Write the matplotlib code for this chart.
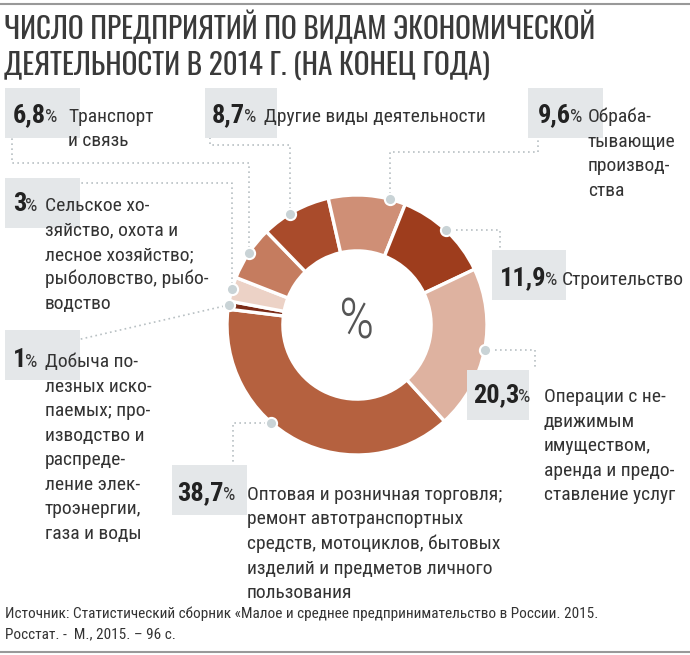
import numpy as np
import matplotlib
matplotlib.use("Agg")
import matplotlib.pyplot as plt
from matplotlib import font_manager

# data, clockwise starting from the lower-right edge of the big wedge
shares = [38.7, 1, 3, 6.8, 8.7, 9.6, 11.9, 20.3]
numbers = ["38,7", "1", "3", "6,8", "8,7", "9,6", "11,9", "20,3"]
names = [
    ["Оптовая и розничная торговля;", "ремонт автотранспортных",
     "средств, мотоциклов, бытовых", "изделий и предметов личного", "пользования"],
    ["Добыча по-", "лезных иско-", "паемых; про-", "изводство и", "распреде-",
     "ление элек-", "троэнергии,", "газа и воды"],
    ["Сельское хо-", "зяйство, охота и", "лесное хозяйство;",
     "рыболовство, рыбо-", "водство"],
    ["Транспорт", "и связь"],
    ["Другие виды деятельности"],
    ["Обраба-", "тывающие", "производ-", "ства"],
    ["Строительство"],
    ["Операции с не-", "движимым", "имуществом,", "аренда и предо-",
     "ставление услуг"],
]
colors = ["#b5613f", "#7b2b17", "#ecd2c6", "#c57c5f",
          "#a94b2b", "#cf8f76", "#9e3d1d", "#deb2a0"]

title = ["ЧИСЛО ПРЕДПРИЯТИЙ ПО ВИДАМ ЭКОНОМИЧЕСКОЙ",
         "ДЕЯТЕЛЬНОСТИ В 2014 Г. (НА КОНЕЦ ГОДА)"]
source = ["Источник: Статистический сборник «Малое и среднее предпринимательство в России. 2015.",
          "Росстат. -  М., 2015. – 96 с."]

available = {f.name for f in font_manager.fontManager.ttflist}


def pick(cands):
    for c in cands:
        if c in available:
            return c
    return "DejaVu Sans"


BODY = pick(["Roboto Condensed", "PT Sans Narrow", "Liberation Sans Narrow", "Roboto"])
HEAD = pick(["Oswald", "PT Sans Narrow", "Roboto Condensed", "Roboto"])
plt.rcParams["font.family"] = [BODY, "DejaVu Sans"]

W, H = 690, 655
cx, cy, R = 357, 325, 130

# label layout in pixels: box (x, y, w, h), number x, baseline y, dot position in wedge
boxes = [(172, 465, 75, 50), (5, 330, 75, 50), (5, 178, 75, 50), (5, 88, 75, 50),
         (205, 88, 72, 50), (528, 88, 75, 50), (492, 250, 74, 50), (467, 370, 62, 50)]
num_x = [177, 13, 13, 13, 212, 538, 500, 473]
desc_x = [247, 45, 45, 68, 264, 588, 562, 544]
base_y = [500, 367, 211, 122, 122, 122, 285, 402]
dot_frac = [0.6, 0.5, 0.5, 0.5, 0.42, 0.8, 0.5, 0.5]
line_step = 24.5

fig = plt.figure(figsize=(W / 100, H / 100), dpi=100)
ax = fig.add_axes([0, 0, 1, 1])

# y points down here, so counterclock=True turns clockwise on screen
start = 137.7
ax.pie(shares, colors=colors, center=(cx, cy), radius=R, startangle=start - 90,
       counterclock=True, frame=True,
       wedgeprops=dict(width=R * 0.43, edgecolor="white", linewidth=2.4))
ax.set_xlim(0, W)
ax.set_ylim(H, 0)
ax.set_aspect("equal")
ax.axis("off")

edges = start + np.concatenate([[0], np.cumsum(shares)]) * 3.6
dots = []
for i in range(len(shares)):
    th = np.radians(edges[i] + (edges[i + 1] - edges[i]) * dot_frac[i] - 90)
    dots.append((cx + R * np.cos(th), cy + R * np.sin(th)))

# leader routes: from dot to box
routes = [
    lambda d: [d, (233, d[1]), (233, 465)],
    lambda d: [d, (68, 342)],
    lambda d: [d, (d[0], 183), (68, 183)],
    lambda d: [d, (d[0], 163), (12, 163), (12, 137)],
    lambda d: [d, (d[0], 145), (210, 145), (210, 137)],
    lambda d: [d, (d[0], 152), (538, 152), (538, 137)],
    lambda d: [d, (500, d[1]), (500, 250)],
    lambda d: [d, (535, d[1]), (535, 370)],
]
for d, route in zip(dots, routes):
    pts = np.array(route(d))
    ax.plot(pts[:, 0], pts[:, 1], color="#b8c0c3", lw=1.2,
            linestyle=(0, (1, 2)), zorder=1)
for d in dots:
    ax.scatter(d[0], d[1], s=65, color="#c9d3d6", edgecolor="white",
               linewidth=1.5, zorder=5)

fig.canvas.draw()
rend = fig.canvas.get_renderer()
for i in range(len(shares)):
    bx, by, bw, bh = boxes[i]
    ax.add_patch(plt.Rectangle((bx, by), bw, bh, facecolor="#e4e7e9",
                               edgecolor="none", zorder=2))
    t = ax.text(num_x[i], base_y[i], numbers[i], fontsize=19, fontweight="bold",
                color="#222222", va="baseline", ha="left", zorder=3)
    x1 = t.get_window_extent(rend).x1
    ax.text(x1 - 1, base_y[i], "%", fontsize=14, color="#333333",
            va="baseline", ha="left", zorder=3)
    for k, line in enumerate(names[i]):
        ax.text(desc_x[i], base_y[i] + k * line_step, line, fontsize=14,
                color="#333333", va="baseline", ha="left", zorder=3)

ax.text(cx, cy - 2, "%", fontsize=40, color="#555555", ha="center", va="center",
        fontweight="light")

for k, line in enumerate(title):
    ax.text(4, 39 + k * 36, line, fontsize=21, color="#3a3a3a", ha="left",
            va="baseline", family=[HEAD, "DejaVu Sans"], fontweight="light")
for k, line in enumerate(source):
    ax.text(5, 618 + k * 20, line, fontsize=11, color="#333333", ha="left",
            va="baseline")
ax.plot([0, W], [4, 4], color="#999999", lw=1.5)
ax.plot([0, W], [652, 652], color="#999999", lw=1.5)

fig.savefig("out.png", dpi=100)
